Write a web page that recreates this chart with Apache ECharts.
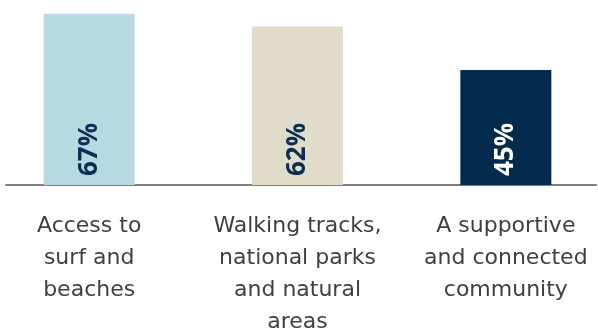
<!DOCTYPE html>
<html><head><meta charset="utf-8">
<script src="https://cdn.jsdelivr.net/npm/echarts@6/dist/echarts.min.js"></script>
<style>html,body{margin:0;padding:0;background:#fff}#c{width:598px;height:332px}</style>
</head><body><div id="c"></div>
<script>
var categories = ['Access to\nsurf and\nbeaches', 'Walking tracks,\nnational parks\nand natural\nareas', 'A supportive\nand connected\ncommunity'];
var values = [67, 62, 45];
var barColors = ['#b9d9e2', '#e0dcc9', '#022a4c'];
var labelColors = ['#0b2e52', '#0b2e52', '#ffffff'];

var chart = echarts.init(document.getElementById('c'), null, {renderer: 'canvas'});
chart.setOption({
  animation: false,
  grid: [
    {left: -15, width: 625, top: 12, height: 173, containLabel: false, outerBoundsMode: 'none'},
    {left: 6, width: 590, top: 12, height: 173, containLabel: false, outerBoundsMode: 'none'}
  ],
  xAxis: [
    {type: 'category', gridIndex: 0, data: categories,
     axisLine: {show: false}, axisTick: {show: false},
     axisLabel: {interval: 0, margin: 25, color: '#404040', fontFamily: 'DejaVu Sans', fontSize: 22, lineHeight: 32}},
    {type: 'value', gridIndex: 1, min: 0, max: 1, axisLabel: {show: false}, axisTick: {show: false}, splitLine: {show: false},
     axisLine: {show: true, onZero: false, lineStyle: {color: '#808080', width: 2}}}
  ],
  yAxis: [
    {type: 'value', gridIndex: 0, min: 0, max: 67.7, show: false, splitLine: {show: false}},
    {type: 'value', gridIndex: 1, min: 0, max: 1, show: false, splitLine: {show: false}}
  ],
  series: [{
    type: 'bar', xAxisIndex: 0, yAxisIndex: 0, barWidth: 91,
    data: values.map(function (v, i) {
      return {value: v, itemStyle: {color: barColors[i]},
        label: {color: labelColors[i]}};
    }),
    label: {show: true, position: 'insideBottom', rotate: 90, distance: 9, align: 'left', verticalAlign: 'middle',
      fontFamily: 'Open Sans', fontWeight: 'bold', fontSize: 26,
      formatter: function (p) { return p.value + '%'; }}
  }]
});
</script></body></html>
